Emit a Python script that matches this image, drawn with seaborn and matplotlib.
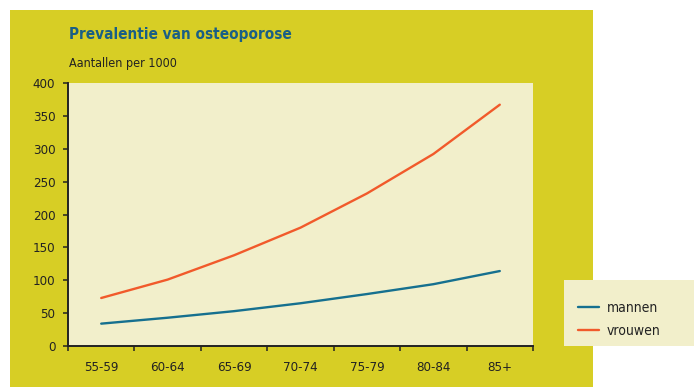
import pandas as pd
import seaborn as sns
import matplotlib.pyplot as plt
from matplotlib.patches import Rectangle

# data
leeftijd = ['55-59', '60-64', '65-69', '70-74', '75-79', '80-84', '85+']
mannen = [34, 43, 53, 65, 79, 94, 114]
vrouwen = [73, 101, 138, 180, 232, 292, 367]

yellow = '#D7CE25'
cream = '#F2EFCB'
blue = '#16708F'
orange = '#F15A2B'

df = pd.DataFrame({
    'leeftijd': leeftijd * 2,
    'waarde': mannen + vrouwen,
    'geslacht': ['mannen'] * len(mannen) + ['vrouwen'] * len(vrouwen),
})
df['pos'] = list(range(len(leeftijd))) * 2

sns.set_style('ticks')
plt.rcParams['font.family'] = ['DejaVu Sans']
plt.rcParams['font.stretch'] = 'condensed'

fig = plt.figure(figsize=(6.94, 3.87), dpi=100)
W, H = 694, 387
fig.patches.append(Rectangle((10 / W, 0), 583 / W, 377 / H, transform=fig.transFigure,
                             facecolor=yellow, edgecolor='none', zorder=-5))
fig.patches.append(Rectangle((564 / W, 1 - 346 / H), 130 / W, 66 / H, transform=fig.transFigure,
                             facecolor=cream, edgecolor='none', zorder=-5))

ax = fig.add_axes([68 / W, 1 - 346 / H, 465 / W, 263 / H])
ax.set_facecolor(cream)

sns.lineplot(data=df, x='pos', y='waarde', hue='geslacht',
             palette={'mannen': blue, 'vrouwen': orange}, linewidth=1.7, ax=ax)

ax.set_xlim(-0.5, len(leeftijd) - 0.5)
ax.set_ylim(0, 400)
ax.set_yticks(range(0, 401, 50))
ax.set_xticks([i - 0.5 for i in range(len(leeftijd) + 1)])
ax.set_xticklabels([])
ax.set_xticks(range(len(leeftijd)), minor=True)
ax.set_xticklabels(leeftijd, minor=True)
ax.tick_params(axis='x', which='major', bottom=True, length=3.6, width=1.1,
               color='#222222', direction='out')
ax.tick_params(axis='x', which='minor', bottom=True, length=0, pad=11, labelsize=9.5,
               labelcolor='#222222')
ax.tick_params(axis='y', left=True, length=3.6, width=1.1, color='#222222', direction='out',
               pad=5.5, labelsize=9.5, labelcolor='#222222')
ax.set_xlabel('')
ax.set_ylabel('')
for s in ['top', 'right']:
    ax.spines[s].set_visible(False)
for s in ['left', 'bottom']:
    ax.spines[s].set_color('#222222')
    ax.spines[s].set_linewidth(1.4)

handles, labels = ax.get_legend_handles_labels()
ax.get_legend().remove()
fig.legend(handles, labels, loc='upper left', bbox_to_anchor=(578 / W, 1 - 301 / H),
           frameon=False, fontsize=10, handlelength=1.5, handletextpad=0.55,
           labelspacing=0.62, borderpad=0, borderaxespad=0, labelcolor='#222222')

fig.text(69 / W, 1 - 34 / H, 'Prevalentie van osteoporose', fontsize=11, fontweight='bold',
         color='#1A5F85', va='center', ha='left')
fig.text(69 / W, 1 - 64 / H, 'Aantallen per 1000', fontsize=9, color='#222222',
         va='center', ha='left')

fig.savefig('out.png', dpi=100)
